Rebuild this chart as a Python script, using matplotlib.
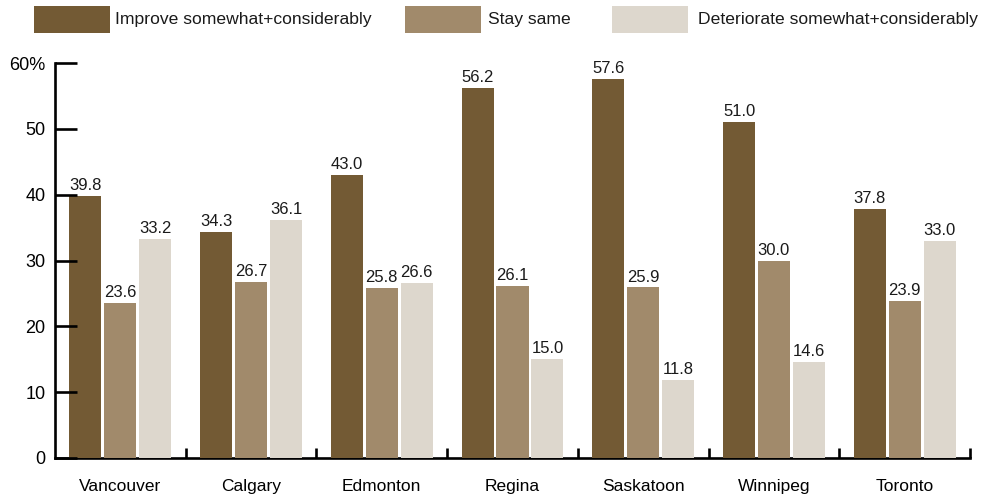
import matplotlib
matplotlib.use("Agg")
import matplotlib.pyplot as plt
import numpy as np
from matplotlib.patches import Rectangle

plt.rcParams['font.family'] = ['Liberation Sans', 'DejaVu Sans']

cities = ["Vancouver", "Calgary", "Edmonton", "Regina", "Saskatoon", "Winnipeg", "Toronto"]
improve = [39.8, 34.3, 43.0, 56.2, 57.6, 51.0, 37.8]
same = [23.6, 26.7, 25.8, 26.1, 25.9, 30.0, 23.9]
deteriorate = [33.2, 36.1, 26.6, 15.0, 11.8, 14.6, 33.0]
series_names = ["Improve somewhat+considerably", "Stay same", "Deteriorate somewhat+considerably"]
colors = ["#735a34", "#a18a6b", "#ddd7cd"]
yticks = [0, 10, 20, 30, 40, 50, 60]
ytick_labels = ["0", "10", "20", "30", "40", "50", "60%"]

W, H = 995, 499
fig = plt.figure(figsize=(W / 100, H / 100), dpi=100)
ax = fig.add_axes([55 / W, (H - 458) / H, (970 - 55) / W, (458 - 63) / H])

x = np.arange(len(cities))
bw = 0.245
step = 0.267
for i, (vals, c) in enumerate(zip([improve, same, deteriorate], colors)):
    pos = x + (i - 1) * step
    bars = ax.bar(pos, vals, width=bw, color=c, zorder=1, linewidth=0)
    for p, v in zip(pos, vals):
        ax.text(p, v + 0.45, f"{v:.1f}", ha="center", va="bottom", fontsize=12, color="#1a1a1a")

ax.set_xlim(-0.5, len(cities) - 0.5)
ax.set_ylim(0, 60)
ax.set_yticks(yticks)
ax.set_yticklabels(ytick_labels, fontsize=13)
ax.tick_params(axis="y", direction="in", length=16, width=1.9, pad=7, colors="black")
ax.set_xticks(x)
ax.set_xticklabels(cities, fontsize=12.5)
ax.tick_params(axis="x", which="major", length=0, pad=15)
ax.set_xticks(np.arange(0.5, len(cities), 1.0), minor=True)
ax.tick_params(axis="x", which="minor", direction="in", length=7, width=1.9)
for s in ["top", "right"]:
    ax.spines[s].set_visible(False)
for s in ["left", "bottom"]:
    ax.spines[s].set_linewidth(1.9)
    ax.spines[s].set_zorder(0.5)

# legend
leg_items = [(34, 115), (405, 488), (612, 698)]
for (px, tx), name, c in zip(leg_items, series_names, colors):
    fig.patches.append(Rectangle((px / W, (H - 33) / H), 76 / W, 27 / H, transform=fig.transFigure,
                                 facecolor=c, edgecolor="none"))
    fig.text(tx / W, (H - 19.5) / H, name, ha="left", va="center", fontsize=12.6, color="#1a1a1a")

fig.savefig("out.png", dpi=100)
